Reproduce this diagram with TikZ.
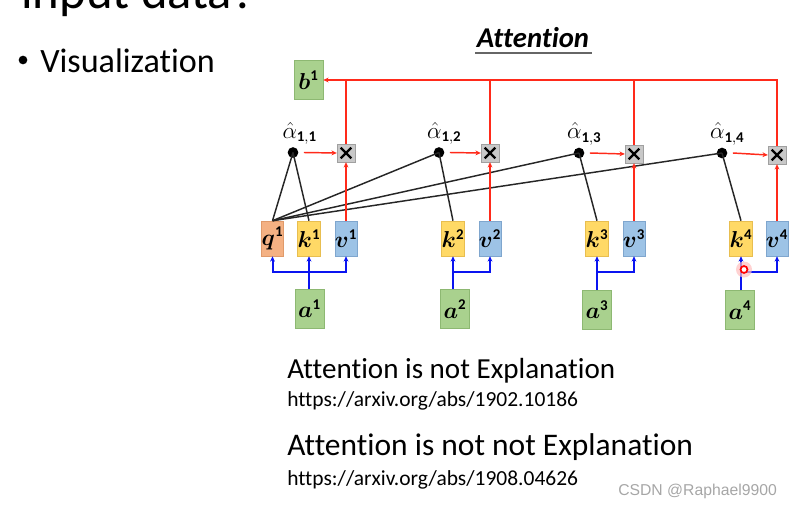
\documentclass[tikz,border=0pt]{standalone}
\usepackage{fontspec}
\setmainfont{Carlito}[Ligatures=CommonOff]
\newfontfamily\wmfont{Liberation Sans}
\usepackage{amsmath,bm}
\usetikzlibrary{arrows.meta}
\definecolor{gfill}{HTML}{A9D18E}\definecolor{gdraw}{HTML}{8DB872}
\definecolor{qfill}{HTML}{F4B183}\definecolor{qdraw}{HTML}{E09A6A}
\definecolor{kfill}{HTML}{FFD966}\definecolor{kdraw}{HTML}{E8BE50}
\definecolor{vfill}{HTML}{9DC3E6}\definecolor{vdraw}{HTML}{7FA6CE}
\definecolor{rline}{HTML}{FF2A1A}
\definecolor{bline}{HTML}{0A14F0}
\definecolor{xfill}{HTML}{C8C8C8}
\tikzset{
  vecbox/.style={minimum width=14.5pt, minimum height=26.25pt, inner sep=0pt, line width=0.4pt, font=\fontsize{16}{16}\selectfont},
  qbox/.style={vecbox, fill=qfill, draw=qdraw},
  kbox/.style={vecbox, fill=kfill, draw=kdraw},
  vbox/.style={vecbox, fill=vfill, draw=vdraw},
  abox/.style={minimum width=21.75pt, minimum height=29.25pt, inner sep=0pt, fill=gfill, draw=gdraw, line width=0.4pt, font=\fontsize{16}{16}\selectfont},
  xbox/.style={minimum width=13.5pt, minimum height=13.5pt, inner sep=0pt, fill=xfill, draw=xfill!80!black, line width=0.3pt},
  dotnode/.style={circle, fill=black, minimum size=8pt, inner sep=0pt},
  alab/.style={anchor=south, inner sep=0pt, font=\fontsize{16}{16}\selectfont},
  redln/.style={draw=rline, line width=1.1pt},
  redarr/.style={redln, -{Stealth[length=4pt,width=3.6pt]}},
  blueln/.style={draw=bline, line width=1.5pt},
  bluearr/.style={blueln, -{Stealth[length=4pt,width=3.6pt]}},
  bluedbl/.style={blueln, {Stealth[length=4pt,width=3.6pt]}-{Stealth[length=4pt,width=3.6pt]}},
  blkln/.style={draw=black!85, line width=1.1pt},
}
\begin{document}
\begin{tikzpicture}[x=0.75pt,y=-0.75pt]
\useasboundingbox (0,0) rectangle (807,507);

% slide texts
\node[anchor=base west, inner sep=0pt, font=\fontsize{38}{38}\selectfont] (title) at (21,8) {input data?};
\node[circle, fill=black, minimum size=6.5pt, inner sep=0pt] (bul) at (23,60) {};
\node[anchor=base west, inner sep=0pt, font=\fontsize{25.6}{26}\selectfont] (vis) at (40,72) {Visualization};

\node[anchor=base, inner sep=0pt, font=\fontsize{21.5}{22}\selectfont\bfseries\itshape] (att) at (533,47) {Attention};
\draw[draw=black!60, line width=1.5pt] (475,53) -- (592,53);

% output
\node[abox] (b1) at (308.5,80) {$\bm{b}^{\mathbf{1}}$};

% q k v
\node[qbox] (q1) at (272.5,238.5) {$\bm{q}^{\mathbf{1}}$};
\node[kbox] (k1) at (309,238.5) {$\bm{k}^{\mathbf{1}}$};
\node[vbox] (v1) at (346,238.5) {$\bm{v}^{\mathbf{1}}$};
\node[kbox] (k2) at (453,238.5) {$\bm{k}^{\mathbf{2}}$};
\node[vbox] (v2) at (490,238.5) {$\bm{v}^{\mathbf{2}}$};
\node[kbox] (k3) at (597,238.5) {$\bm{k}^{\mathbf{3}}$};
\node[vbox] (v3) at (634,238.5) {$\bm{v}^{\mathbf{3}}$};
\node[kbox] (k4) at (741,238.5) {$\bm{k}^{\mathbf{4}}$};
\node[vbox] (v4) at (777,238.5) {$\bm{v}^{\mathbf{4}}$};

% inputs
\node[abox] (a1) at (309.5,308.5) {$\bm{a}^{\mathbf{1}}$};
\node[abox] (a2) at (455,309) {$\bm{a}^{\mathbf{2}}$};
\node[abox] (a3) at (597,309.5) {$\bm{a}^{\mathbf{3}}$};
\node[abox] (a4) at (740,310) {$\bm{a}^{\mathbf{4}}$};

% attention scores
\node[dotnode] (d1) at (293,152.5) {};
\node[dotnode] (d2) at (439,152.5) {};
\node[dotnode] (d3) at (579,153) {};
\node[dotnode] (d4) at (722,153) {};
\node[alab] (l1) at ([xshift=5pt,yshift=1.5pt]d1.north) {$\hat{\alpha}_{\mathbf{1,1}}$};
\node[alab] (l2) at ([xshift=4pt,yshift=1.5pt]d2.north) {$\hat{\alpha}_{\mathbf{1,2}}$};
\node[alab] (l3) at ([xshift=4pt,yshift=1.5pt]d3.north) {$\hat{\alpha}_{\mathbf{1,3}}$};
\node[alab] (l4) at ([xshift=4pt,yshift=1.5pt]d4.north) {$\hat{\alpha}_{\mathbf{1,4}}$};

% multiply boxes
\node[xbox] (x1) at (346,153) {};
\node[xbox] (x2) at (490,153) {};
\node[xbox] (x3) at (634,154) {};
\node[xbox] (x4) at (777,155) {};
\foreach \n in {x1,x2,x3,x4}{
  \draw[line width=1.8pt] ([shift={(-4pt,4pt)}]\n.center) -- ([shift={(4pt,-4pt)}]\n.center);
  \draw[line width=1.8pt] ([shift={(-4pt,-4pt)}]\n.center) -- ([shift={(4pt,4pt)}]\n.center);
}

% black score lines
\draw[blkln] (q1.north) -- (d1.center);
\draw[blkln] (k1.north) -- (d1.center);
\draw[blkln] (q1.north) -- (d2.center);
\draw[blkln] (k2.north) -- (d2.center);
\draw[blkln] (q1.north) -- (d3.center);
\draw[blkln] (k3.north) -- (d3.center);
\draw[blkln] (q1.north) -- (d4.center);
\draw[blkln] (k4.north) -- (d4.center);

% red: score -> multiply
\draw[redarr] ([xshift=4pt]d1.east) -- (x1.west);
\draw[redarr] ([xshift=4pt]d2.east) -- (x2.west);
\draw[redarr] ([xshift=4pt]d3.east) -- (x3.west);
\draw[redarr] ([xshift=4pt]d4.east) -- (x4.west);
% red: v -> multiply
\draw[redarr] (v1.north) -- (x1.south);
\draw[redarr] (v2.north) -- (x2.south);
\draw[redarr] (v3.north) -- (x3.south);
\draw[redarr] (v4.north) -- (x4.south);
% red: sum -> b1
\draw[redarr] (x4.north) |- (b1.east);
\draw[redln] (x1.north) -- (x1.north |- b1.east);
\draw[redln] (x2.north) -- (x2.north |- b1.east);
\draw[redln] (x3.north) -- (x3.north |- b1.east);

% blue: a -> q k v
\coordinate (j1) at (309,272);
\coordinate (j2) at (453,272);
\coordinate (j3) at (597,272);
\coordinate (j4) at (741,272);
\draw[bluearr] (a1.north -| k1.south) -- (k1.south);
\draw[bluedbl] (q1.south) |- (j1) -| (v1.south);
\draw[bluearr] (a2.north -| k2.south) -- (k2.south);
\draw[bluearr] (j2) -| (v2.south);
\draw[bluearr] (a3.north -| k3.south) -- (k3.south);
\draw[bluearr] (j3) -| (v3.south);
\draw[bluearr] (a4.north -| k4.south) -- (k4.south);
\draw[bluearr] (j4) -| (v4.south);

% cursor marker
\fill[red!25, opacity=0.7] (744,269.5) circle (6pt);
\draw[red, line width=1.3pt, fill=white] (744,269.5) circle (2.6pt);

% references
\node[anchor=base west, inner sep=0pt, font=\fontsize{21.8}{22}\selectfont] (t1) at (287,378) {Attention is not Explanation};
\node[anchor=base west, inner sep=0pt, font=\fontsize{16.1}{17}\selectfont] (u1) at (287,406) {https://arxiv.org/abs/1902.10186};
\node[anchor=base west, inner sep=0pt, font=\fontsize{23.6}{24}\selectfont] (t2) at (287,455) {Attention is not not Explanation};
\node[anchor=base west, inner sep=0pt, font=\fontsize{16.1}{17}\selectfont] (u2) at (287,485) {https://arxiv.org/abs/1908.04626};
\node[anchor=base west, inner sep=0pt, text=black!35, font=\wmfont\fontsize{11.8}{12}\selectfont] (wm) at (618,495) {CSDN @Raphael9900};
\end{tikzpicture}
\end{document}
